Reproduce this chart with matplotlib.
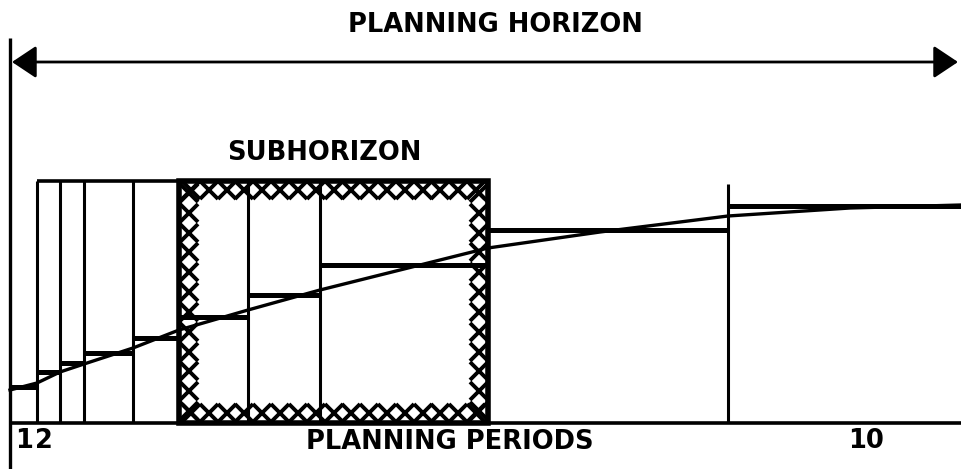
import numpy as np
import matplotlib.pyplot as plt
from matplotlib.patches import Rectangle

# period boundaries along the planning horizon (10 periods, growing in length)
bounds = [0, 27, 50, 74, 123, 169, 238, 310, 478, 718, 951]
# planned level held constant over each period
steps = [36, 51, 60, 70, 85, 106, 128, 158, 193, 217]
# smooth underlying requirement curve
curve_x = [0, 27, 50, 74, 123, 169, 238, 310, 390, 478, 590, 718, 840, 951]
curve_y = [33, 40, 51, 59, 75, 93, 113, 133, 153, 175, 191, 207, 215, 218]
# subhorizon = periods 6..8
sub_first, sub_last = 6, 8
box_top = 242

fig = plt.figure(figsize=(9.61, 4.69), dpi=100)
ax = fig.add_axes([0, 0, 1, 1])
ax.set_xlim(-10, 951)
ax.set_ylim(-46, 423)
ax.axis("off")

k = "black"
# axes of the sketch
ax.plot([bounds[0], bounds[-1]], [0, 0], color=k, lw=2.6, solid_capstyle="butt")
ax.plot([0, 0], [-46, 385], color=k, lw=2.4, solid_capstyle="butt")

# period boxes
ax.vlines(bounds[1:9], 0, box_top, color=k, lw=2.2)
ax.vlines(bounds[9], 0, box_top - 3, color=k, lw=2.2)
ax.hlines(box_top, bounds[1], bounds[8], color=k, lw=2.6)

# steps and curve
ax.hlines(steps, bounds[:-1], bounds[1:], color=k, lw=3.6)
ax.plot(curve_x, curve_y, color=k, lw=2.4)

# subhorizon frame with chain of crosses
x0, x1 = bounds[sub_first - 1], bounds[sub_last]
ax.add_patch(Rectangle((x0, 0), x1 - x0, box_top, fill=False, ec=k, lw=4))
mk = dict(marker="x", ms=12.5, mew=2.8, color=k, ls="none")
ys = np.linspace(12, box_top - 12, 12)
xs = np.linspace(x0 + 12, x1 - 12, 17)
ax.plot(np.full(len(ys), x0 + 10), ys, **mk)
ax.plot(np.full(len(ys), x1 - 9), ys, **mk)
ax.plot(xs, np.full(len(xs), box_top - 9), **mk)
ax.plot(xs, np.full(len(xs), 10), **mk)

# planning horizon arrow
ax.annotate("", xy=(948, 361), xytext=(2, 361),
            arrowprops=dict(arrowstyle="<|-|>,head_length=0.75,head_width=0.5",
                            color=k, lw=2, mutation_scale=20, shrinkA=0, shrinkB=0))

tf = dict(fontweight="bold", color=k, ha="center", va="center", fontsize=18.5)
ax.text(485, 398, "PLANNING HORIZON", **tf)
ax.text(314, 270, "SUBHORIZON", **tf)
ax.text(440, -19, "PLANNING PERIODS", **tf)
ax.text(14, -18, "1", **tf)
ax.text(34, -18, "2", **tf)
ax.text(856, -18, "10", **tf)

fig.savefig("out.png", dpi=100)
